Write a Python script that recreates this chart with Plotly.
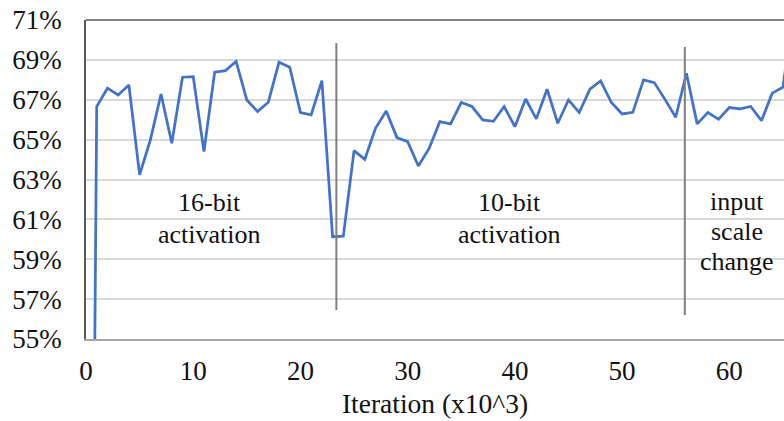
import plotly.graph_objects as go

# Validation accuracy (%) per 1k iterations
iterations = list(range(0, 67))
accuracy = [
    0.1, 66.66, 67.58, 67.24, 67.74, 63.23, 64.98, 67.29, 64.82, 68.13,
    68.16, 64.40, 68.38, 68.46, 68.92, 66.99, 66.41, 66.87, 68.88, 68.63,
    66.36, 66.24, 67.96, 60.13, 60.16, 64.45, 64.01, 65.57, 66.44, 65.10,
    64.90, 63.68, 64.56, 65.90, 65.79, 66.86, 66.66, 65.99, 65.92, 66.66,
    65.65, 67.04, 66.04, 67.53, 65.82, 66.99, 66.36, 67.53, 67.95, 66.86,
    66.29, 66.37, 68.00, 67.86, 67.02, 66.12, 68.33, 65.79, 66.36, 66.02,
    66.61, 66.54, 66.66, 65.95, 67.33, 67.63, 71.5,
]

# Phase boundaries (x10^3 iterations) and their marker extents (%)
phase_x = [23.35, 55.85]
phase_y0 = [56.45, 56.2]
phase_y1 = [69.85, 69.65]

# Phase labels: one entry per text line
label_text = ["16-bit", "activation", "10-bit", "activation", "input", "scale", "change"]
label_x = [11.5, 11.5, 39.5, 39.5, 60.7, 60.7, 60.7]
label_y = [61.85, 60.25, 61.85, 60.25, 61.9, 60.4, 58.9]

y_ticks = list(range(55, 72, 2))
x_ticks = list(range(0, 70, 10))

SERIF = '"Liberation Serif", "Times New Roman", serif'
INK = "#111111"

fig = go.Figure()
fig.add_trace(go.Scatter(
    x=iterations, y=accuracy, mode="lines",
    line=dict(color="#4472C4", width=2.75),
    cliponaxis=True, showlegend=False,
))

for x, y0, y1 in zip(phase_x, phase_y0, phase_y1):
    fig.add_shape(type="line", xref="x", yref="y", x0=x, x1=x, y0=y0, y1=y1,
                  line=dict(color="#7f7f7f", width=2))

for t, x, y in zip(label_text, label_x, label_y):
    fig.add_annotation(x=x, y=y, xref="x", yref="y", text=t, showarrow=False,
                       font=dict(family=SERIF, size=26, color=INK),
                       xanchor="center", yanchor="middle")

fig.update_layout(
    width=784, height=421,
    margin=dict(l=86, r=0, t=20, b=82),
    paper_bgcolor="white", plot_bgcolor="white",
    font=dict(family=SERIF, size=27, color=INK),
    xaxis=dict(
        range=[0, 65.1], tickvals=x_ticks, ticktext=[str(v) for v in x_ticks],
        showgrid=False, zeroline=False,
        showline=True, linecolor="#a6a6a6", linewidth=1.5, mirror=False,
        ticks="", ticklabelstandoff=7,
        title=dict(text="Iteration (x10^3)", standoff=9,
                   font=dict(family=SERIF, size=27.5, color=INK)),
    ),
    yaxis=dict(
        range=[55, 71], tickvals=y_ticks, ticktext=[f"{v}%" for v in y_ticks],
        showgrid=True, gridcolor="#d9d9d9", gridwidth=2,
        zeroline=False, showline=True, linecolor="#595959", linewidth=1.5,
        ticks="", ticklabelstandoff=17,
    ),
)

# Top frame line
fig.add_shape(type="line", xref="paper", yref="paper", x0=0, x1=1, y0=1, y1=1,
              line=dict(color="#595959", width=1.5))

fig.write_html("out.html")
